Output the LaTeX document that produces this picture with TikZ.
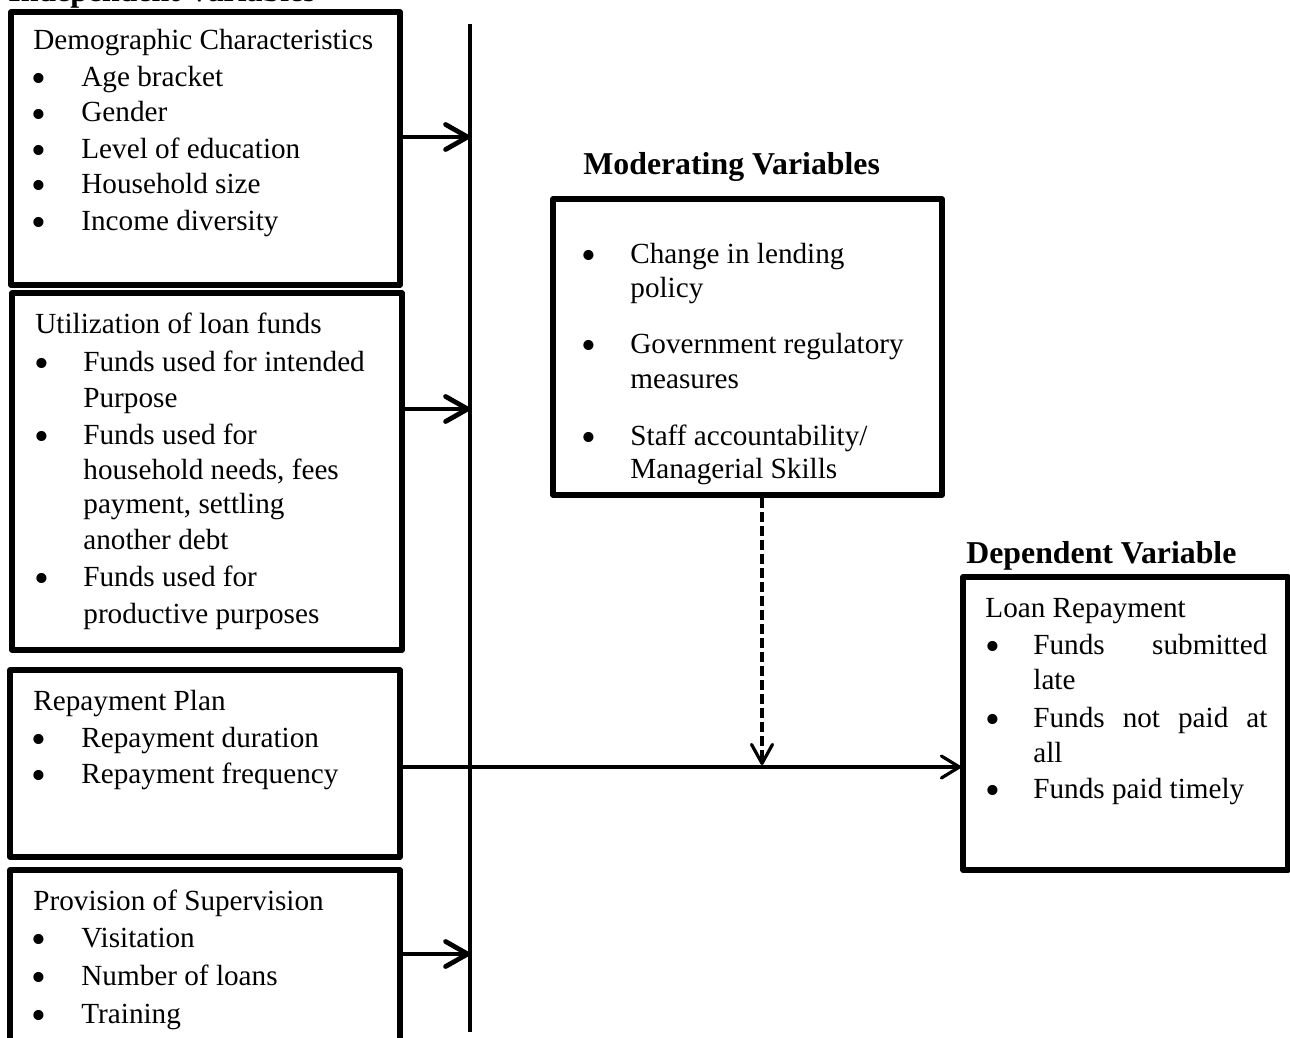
\documentclass[tikz,border=0pt]{standalone}
\usepackage{fontspec}
\setmainfont{Liberation Serif}
\usetikzlibrary{arrows.meta,fit}
\newcommand\fsreg{\fontsize{14.6pt}{17.9pt}\selectfont}
\newcommand\fsttl{\fontsize{15.9pt}{19pt}\selectfont\bfseries}
\newcommand\tline[4]{\node[txt] (#1) at (#2,#3) {#4};}
\newcommand\bline[4]{\node[bul] (#1) at (#2,#3) {\smash{\raisebox{-3pt}{\scalebox{1.45}{\textbullet}}}};}
\tikzset{
  box/.style={draw, line width=2.6pt, inner sep=0pt, rectangle, line join=round},
  txt/.style={anchor=base west, inner sep=0pt, font=\fsreg},
  bul/.style={anchor=base, inner sep=0pt, font=\fsreg},
  ttl/.style={anchor=base west, inner sep=0pt, font=\fsttl},
  bigarrow/.style={line width=2.4pt, -{Straight Barb[length=11pt,width=12.5pt,round]}},
  longarrow/.style={line width=1.6pt, -{Straight Barb[length=9pt,width=11pt,round]}},
  modarrow/.style={line width=1.6pt, dash pattern=on 5pt off 2pt, -{Straight Barb[length=9.5pt,width=10.5pt,round]}},
  divider/.style={line width=1.6pt},
}
\begin{document}
\begin{tikzpicture}[x=0.5pt,y=-0.5pt]
\useasboundingbox (0,0) rectangle (1290,1038);

% Independent variables
\node[ttl] (tind) at (8,2) {Independent Variables};

\node[box, fit={(11,12) (400,285)}] (demo) {};
\tline{d0}{33}{50}{Demographic Characteristics}
\bline{db1}{39}{87}{} \tline{d1}{81}{87}{Age bracket}
\bline{db2}{39}{122}{} \tline{d2}{81}{122}{Gender}
\bline{db3}{39}{158}{} \tline{d3}{81}{158}{Level of education}
\bline{db4}{39}{193}{} \tline{d4}{81}{193}{Household size}
\bline{db5}{39}{230}{} \tline{d5}{81}{230}{Income diversity}

\node[box, fit={(12,293) (402,650)}] (util) {};
\tline{u0}{35}{333}{Utilization of loan funds}
\bline{ub1}{42}{371}{} \tline{u1}{83}{371}{Funds used for intended}
\tline{u2}{83}{407}{Purpose}
\bline{ub2}{42}{444}{} \tline{u3}{83}{444}{Funds used for}
\tline{u4}{83}{479}{household needs, fees}
\tline{u5}{83}{513}{payment, settling}
\tline{u6}{83}{549}{another debt}
\bline{ub3}{42}{586}{} \tline{u7}{83}{586}{Funds used for}
\tline{u8}{83}{623}{productive purposes}

\node[box, fit={(10,670) (400,857)}] (rep) {};
\tline{r0}{33}{710}{Repayment Plan}
\bline{rb1}{39}{747}{} \tline{r1}{81}{747}{Repayment duration}
\bline{rb2}{39}{783}{} \tline{r2}{81}{783}{Repayment frequency}

\node[box, fit={(10,870) (400,1070)}] (sup) {};
\tline{s0}{33}{910}{Provision of Supervision}
\bline{sb1}{39}{947}{} \tline{s1}{81}{947}{Visitation}
\bline{sb2}{39}{985}{} \tline{s2}{81}{985}{Number of loans}
\bline{sb3}{39}{1023}{} \tline{s3}{81}{1023}{Training}

% vertical divider
\coordinate (vtop) at (470,24);
\coordinate (vbot) at (470,1032);
\draw[divider] (vtop) -- (vbot);

\coordinate (a1) at (470,137);
\coordinate (a2) at (470,409);
\coordinate (a4) at (470,954);
\draw[bigarrow] (a1 -| demo.east) -- (a1);
\draw[bigarrow] (a2 -| util.east) -- (a2);
\draw[bigarrow] (a4 -| sup.east) -- (a4);

% Moderating variables
\node[ttl] (tmod) at (583,175) {Moderating Variables};
\node[box, fit={(553,199) (942,495)}] (mod) {};
\bline{mb1}{589}{263}{} \tline{m1}{630}{263}{Change in lending}
\tline{m2}{630}{297}{policy}
\bline{mb2}{589}{353}{} \tline{m3}{630}{353}{Government regulatory}
\tline{m4}{630}{388}{measures}
\bline{mb3}{589}{445}{} \tline{m5}{630}{445}{Staff accountability/}
\tline{m6}{630}{478}{Managerial Skills}

% Dependent variable
\node[ttl] (tdep) at (966,563) {Dependent Variable};
\node[box, fit={(963,577) (1288,870)}] (dep) {};
\tline{p0}{985}{617}{Loan Repayment}
\bline{pb1}{993}{654}{} \tline{p1}{1033}{654}{\makebox[117pt][s]{Funds submitted}}
\tline{p2}{1033}{689}{late}
\bline{pb2}{993}{727}{} \tline{p3}{1033}{727}{\makebox[117pt][s]{Funds not paid at}}
\tline{p4}{1033}{762}{all}
\bline{pb3}{993}{798}{} \tline{p5}{1033}{798}{Funds paid timely}

% connectors
\coordinate (l1) at (961,767);
\draw[longarrow] (l1 -| rep.east) -- (l1);
\coordinate (l2) at (762,765);
\draw[modarrow] (mod.south -| l2) -- (l2);
\end{tikzpicture}
\end{document}
